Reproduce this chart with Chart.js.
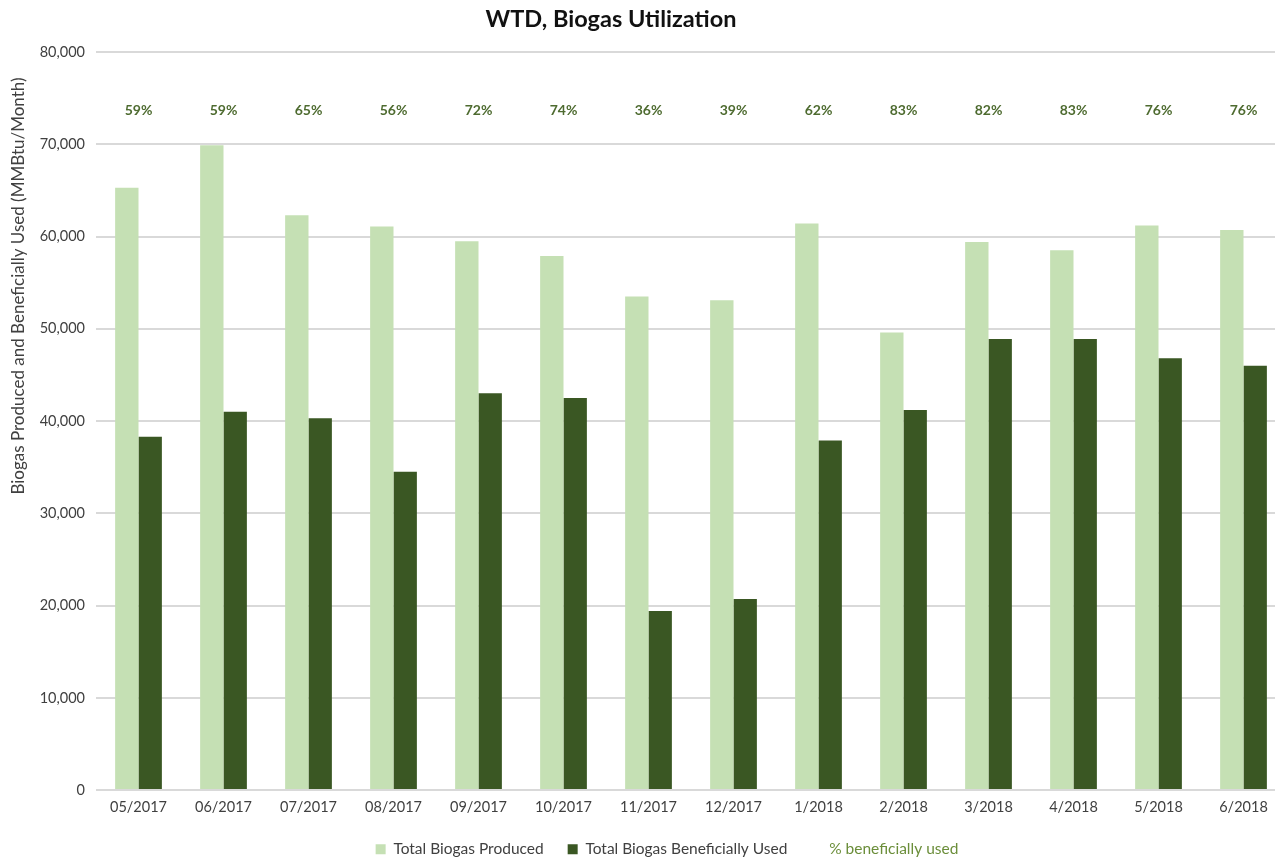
<!DOCTYPE html>
<html>
<head>
<meta charset="utf-8">
<script src="https://cdn.jsdelivr.net/npm/chart.js@4/dist/chart.umd.min.js"></script>
<style>
  html, body { margin: 0; padding: 0; background: #fff; overflow: hidden; }
  #wrap { width: 1275px; height: 863px; overflow: hidden; }
</style>
</head>
<body>
<div id="wrap"><canvas id="biogasChart" width="1286" height="863"></canvas></div>
<script>
// data
const months = ['05/2017', '06/2017', '07/2017', '08/2017', '09/2017', '10/2017', '11/2017',
                '12/2017', '1/2018', '2/2018', '3/2018', '4/2018', '5/2018', '6/2018'];
const produced = [65300, 69900, 62300, 61100, 59500, 57900, 53500, 53100, 61400, 49600, 59400, 58500, 61200, 60700];
const usedBeneficially = [38300, 41000, 40300, 34500, 43000, 42500, 19400, 20700, 37900, 41200, 48900, 48900, 46800, 46000];
const pctUsed = [59, 59, 65, 56, 72, 74, 36, 39, 62, 83, 82, 83, 76, 76];
const yTicks = [0, 10000, 20000, 30000, 40000, 50000, 60000, 70000, 80000];

const lightGreen = '#C5E0B4';
const darkGreen = '#3A5723';
const pctColor = '#4E6B30';

// title, y axis title and the % row
const extraText = {
    id: 'extraText',
    afterLayout(chart) {
        // legend sits a bit right of centre in the original
        chart.legend.left += 22;
        chart.legend.right += 22;
    },
    afterDatasetsDraw(chart) {
        const ctx = chart.ctx;
        const x = chart.scales.x;
        ctx.save();
        ctx.textAlign = 'center';
        ctx.textBaseline = 'middle';

        ctx.font = 'bold 23.5px Lato';
        ctx.fillStyle = '#111';
        ctx.fillText('WTD, Biogas Utilization', 611, 19);

        ctx.font = 'bold 14px Lato';
        ctx.fillStyle = pctColor;
        pctUsed.forEach((p, i) => {
            ctx.fillText(p + '%', x.getPixelForValue(i), chart.chartArea.top + 58);
        });

        ctx.translate(19, 286);
        ctx.rotate(-Math.PI / 2);
        ctx.font = '17px Lato';
        ctx.fillStyle = '#404040';
        ctx.fillText('Biogas Produced and Beneficially Used (MMBtu/Month)', 0, 0);
        ctx.restore();
    }
};

Chart.defaults.font.family = 'Lato';
Chart.defaults.color = '#404040';

new Chart(document.getElementById('biogasChart'), {
    type: 'bar',
    data: {
        labels: months,
        datasets: [{
            label: 'Total Biogas Produced',
            data: produced,
            backgroundColor: lightGreen,
            categoryPercentage: 0.55,
            barPercentage: 1.0
        }, {
            label: 'Total Biogas Beneficially Used',
            data: usedBeneficially,
            backgroundColor: darkGreen,
            categoryPercentage: 0.55,
            barPercentage: 1.0
        }, {
            type: 'line',
            label: '% beneficially used',
            data: pctUsed,
            yAxisID: 'yPct',
            showLine: false,
            pointRadius: 0,
            backgroundColor: 'transparent',
            borderColor: 'transparent'
        }]
    },
    options: {
        responsive: false,
        animation: false,
        layout: { padding: { left: 4, right: 0, top: 52, bottom: -4 } },
        plugins: {
            title: { display: false },
            legend: {
                position: 'bottom',
                labels: {
                    boxWidth: 10,
                    boxHeight: 10,
                    padding: 24,
                    font: { size: 15.5 },
                    generateLabels(chart) {
                        const items = Chart.defaults.plugins.legend.labels.generateLabels(chart);
                        items.forEach(it => {
                            it.lineWidth = 0;
                            if (it.datasetIndex === 2) {
                                it.fillStyle = 'transparent';
                                it.strokeStyle = 'transparent';
                                it.fontColor = '#6B8E3A';
                            } else {
                                it.fontColor = '#404040';
                            }
                        });
                        return items;
                    }
                }
            },
            tooltip: { enabled: false }
        },
        scales: {
            x: {
                grid: { display: false },
                border: { display: false },
                ticks: { color: '#404040', font: { size: 14.5 }, padding: 1, maxRotation: 0 }
            },
            y: {
                min: 0,
                max: 80000,
                afterBuildTicks(scale) { scale.ticks = yTicks.map(v => ({ value: v })); },
                afterFit(scale) { scale.width = 92; },
                border: { display: false },
                grid: { color: '#D9D9D9', lineWidth: 2, drawTicks: false },
                ticks: {
                    padding: 11,
                    font: { size: 14.5 },
                    color: '#404040',
                    callback: v => v.toLocaleString('en-US')
                }
            },
            yPct: { display: false, min: 0, max: 100 }
        }
    },
    plugins: [extraText]
});
</script>
</body>
</html>
